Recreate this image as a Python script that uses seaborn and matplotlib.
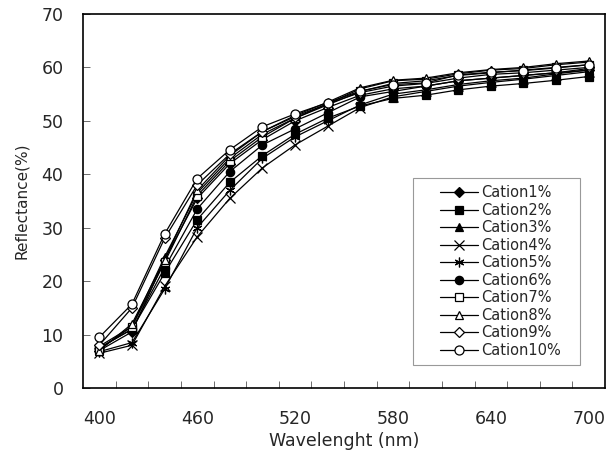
import matplotlib
matplotlib.use("Agg")
import matplotlib.pyplot as plt
from matplotlib.patches import Rectangle
import seaborn as sns
import numpy as np
import pandas as pd

wavelengths = [400, 420, 440, 460, 480, 500, 520, 540, 560, 580, 600, 620, 640, 660, 680, 700]
series_names = ["Cation1%", "Cation2%", "Cation3%", "Cation4%", "Cation5%",
                "Cation6%", "Cation7%", "Cation8%", "Cation9%", "Cation10%"]
cation1 = [7.0, 10.5, 24.0, 35.5, 42.0, 46.5, 50.0, 52.5, 54.8, 56.0, 56.5, 57.5, 58.0, 58.5, 59.0, 59.5]
cation2 = [7.5, 11.0, 21.5, 31.5, 38.5, 43.5, 47.5, 50.5, 52.8, 54.2, 54.8, 55.8, 56.5, 57.0, 57.6, 58.3]
cation3 = [7.8, 11.5, 24.5, 36.5, 43.0, 47.5, 50.5, 53.2, 56.0, 57.5, 57.8, 58.8, 59.5, 59.8, 60.5, 61.0]
cation4 = [6.5, 8.0, 19.0, 28.3, 35.5, 41.2, 45.5, 49.0, 52.5, 54.5, 55.5, 56.5, 57.2, 57.8, 58.5, 59.2]
cation5 = [6.8, 8.5, 18.5, 30.0, 37.0, 43.0, 47.0, 50.0, 53.0, 55.0, 55.8, 56.8, 57.5, 58.0, 58.8, 59.5]
cation6 = [7.5, 11.0, 22.5, 33.5, 40.5, 45.5, 48.5, 51.5, 54.5, 55.5, 56.5, 57.5, 58.0, 58.5, 59.0, 59.8]
cation7 = [7.2, 11.5, 23.5, 36.0, 42.5, 47.0, 50.5, 53.0, 55.5, 57.0, 57.5, 58.5, 59.0, 59.5, 60.0, 60.5]
cation8 = [7.0, 12.0, 24.0, 37.0, 43.5, 48.0, 51.0, 53.5, 56.2, 57.6, 58.0, 59.0, 59.6, 60.0, 60.7, 61.2]
cation9 = [8.0, 15.0, 28.0, 38.0, 43.8, 48.0, 50.8, 53.2, 55.3, 56.5, 57.0, 58.0, 58.7, 59.0, 59.5, 60.0]
cation10 = [9.5, 15.7, 28.8, 39.2, 44.6, 48.9, 51.3, 53.4, 55.6, 56.8, 57.1, 58.6, 59.1, 59.4, 59.9, 60.5]
all_values = [cation1, cation2, cation3, cation4, cation5, cation6, cation7, cation8, cation9, cation10]
x_labels_shown = ["400", "460", "520", "580", "640", "700"]

markers = ["D", "s", "^", "x", (6, 2, 0), "o", "s", "^", "D", "o"]
filled = [True, True, True, None, None, True, False, False, False, False]
msizes = [5, 6, 6, 6.5, 7, 6, 6, 6, 5, 6.5]

sns.set_theme(style="ticks")
plt.rcParams["font.family"] = ["DejaVu Sans"]

fig = plt.figure(figsize=(6.13, 4.57), dpi=100)
ax = fig.add_axes([83/613, 1-388/457, (605-83)/613, (388-14)/457])

pos = np.arange(len(wavelengths))
for name, vals, m, f, ms in zip(series_names, all_values, markers, filled, msizes):
    df = pd.DataFrame({"pos": pos, "val": vals})
    kw = dict(color="black", linewidth=0.9, marker=m, markersize=ms,
              markeredgecolor="black", markeredgewidth=0.9)
    if f is False:
        kw["markerfacecolor"] = "white"
    elif f is True:
        kw["markerfacecolor"] = "black"
    sns.lineplot(data=df, x="pos", y="val", ax=ax, label=name, **kw)

ax.set_xlim(-0.5, len(wavelengths) - 0.5)
ax.set_ylim(0, 70)
ax.set_yticks(np.arange(0, 71, 10))
ax.tick_params(axis="y", direction="in", length=5, width=0.6, color="#555555",
               labelsize=12.5, pad=14)

# tick marks between categories, labels at category centres
ax.set_xticks(np.arange(0.5, len(wavelengths) - 1, 1.0))
ax.set_xticklabels([])
ax.tick_params(axis="x", which="major", direction="in", length=5, width=0.6, color="#555555")
label_pos = [wavelengths.index(int(s)) for s in x_labels_shown]
ax.set_xticks(label_pos, minor=True)
ax.set_xticklabels(x_labels_shown, minor=True)
ax.tick_params(axis="x", which="minor", length=0, labelsize=12.5, pad=16)

for s in ax.spines.values():
    s.set_color("black")
    s.set_linewidth(1.2)

ax.set_xlabel("Wavelenght (nm)", fontsize=12.5, labelpad=3)
ax.set_ylabel("Reflectance(%)", fontsize=11, labelpad=9)

# legend box (drawn as a frame) and legend entries inside it
box = Rectangle((0.632, 0.0615), 0.32, 0.5, transform=ax.transAxes,
                facecolor="white", edgecolor="#999999", linewidth=0.8, zorder=4)
ax.add_patch(box)
leg = ax.legend(loc="center", bbox_to_anchor=(0.80, 0.3115), fontsize=10.5,
                frameon=False, handlelength=2.6, labelspacing=0.17,
                handletextpad=0.2, borderpad=0.0, borderaxespad=0)
leg.set_zorder(5)

fig.savefig("out.png", dpi=100)
